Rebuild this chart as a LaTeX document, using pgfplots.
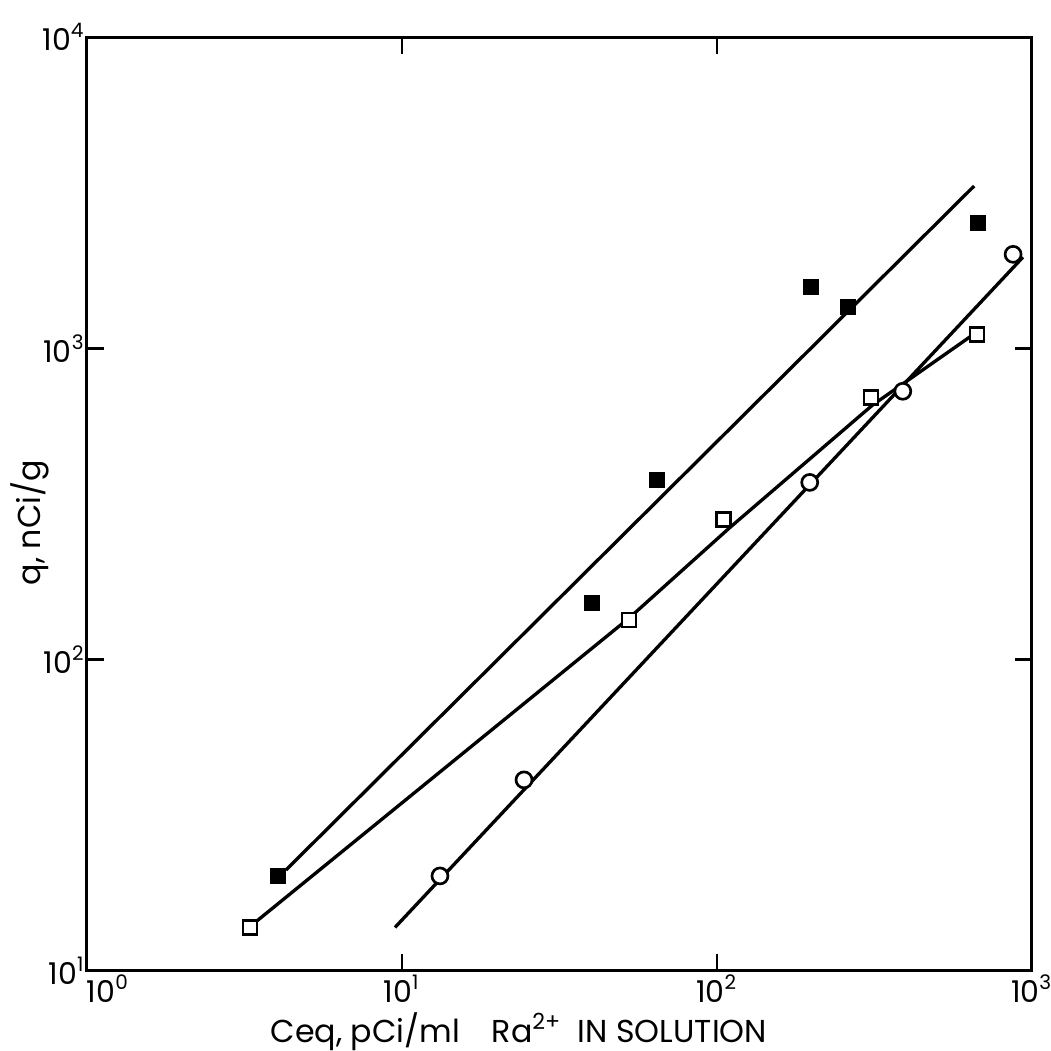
\documentclass[border=0pt]{standalone}
\usepackage{fontspec}
\setmainfont{Poppins}
\usepackage{pgfplots}
\pgfplotsset{compat=1.18}
\begin{document}
\begin{tikzpicture}
\path[use as bounding box] (0,0) rectangle (315.3pt,315.3pt);
\begin{axis}[
  at={(26.1pt,24pt)}, anchor=south west,
  scale only axis, width=283.5pt, height=280.2pt,
  xmode=log, ymode=log, xmin=1, xmax=1000, ymin=10, ymax=10000,
  xtick={1,10,100,1000}, ytick={10,100,1000,10000},
  xticklabels={\makebox[0pt][l]{10\textsuperscript{0}},10\textsuperscript{1},10\textsuperscript{2},10\textsuperscript{3}},
  yticklabels={10\textsuperscript{1},10\textsuperscript{2},10\textsuperscript{3},10\textsuperscript{4}},
  minor tick length=0pt,
  minor tick style={draw=none},
  major tick length=5pt,
  tick style={line width=0.8pt, black},
  axis line style={line width=0.9pt},
  font=\fontsize{9.5}{11}\selectfont,
  yticklabel style={xshift=3pt, inner ysep=0pt, font=\fontsize{9}{11}\selectfont},
  xticklabel style={yshift=-0.5pt, inner sep=0.5pt, font=\fontsize{9}{10}\selectfont},
  xlabel={Ceq, pCi/ml\quad Ra\textsuperscript{2+}\enspace IN SOLUTION},
  ylabel={q, nCi/g},
  xlabel style={at={(axis description cs:0.457,-0.065)}, anchor=center, inner sep=1pt},
  ylabel style={at={(axis description cs:-0.060,0.48)}, anchor=center},
]
% fitted lines
\addplot[black, line width=1pt] coordinates {(4.28,21.1) (655,3321)};
\addplot[black, line width=1pt] coordinates {(3.41,14.3) (52.6,136) (110,266) (311,656) (659,1117)};
\addplot[black, line width=1pt] coordinates {(9.5,13.8) (936,1963)};
% filled squares
\addplot[only marks, mark=square*, mark size=2.2pt, mark options={fill=black, draw=black}]
  coordinates {(4.04,20.2) (40.1,152) (64.5,377) (199,1571) (261,1355) (674,2523)};
% open squares
\addplot[only marks, mark=square*, mark size=2.1pt, mark options={fill=white, draw=black, line width=0.8pt}]
  coordinates {(3.29,13.8) (52.6,134) (105,282) (308,695) (669,1109)};
% open circles
\addplot[only marks, mark=*, mark size=2.4pt, mark options={fill=white, draw=black, line width=0.8pt}]
  coordinates {(13.2,20.2) (24.4,41.1) (197,371) (389,728) (871,2004)};
\end{axis}
\end{tikzpicture}
\end{document}
